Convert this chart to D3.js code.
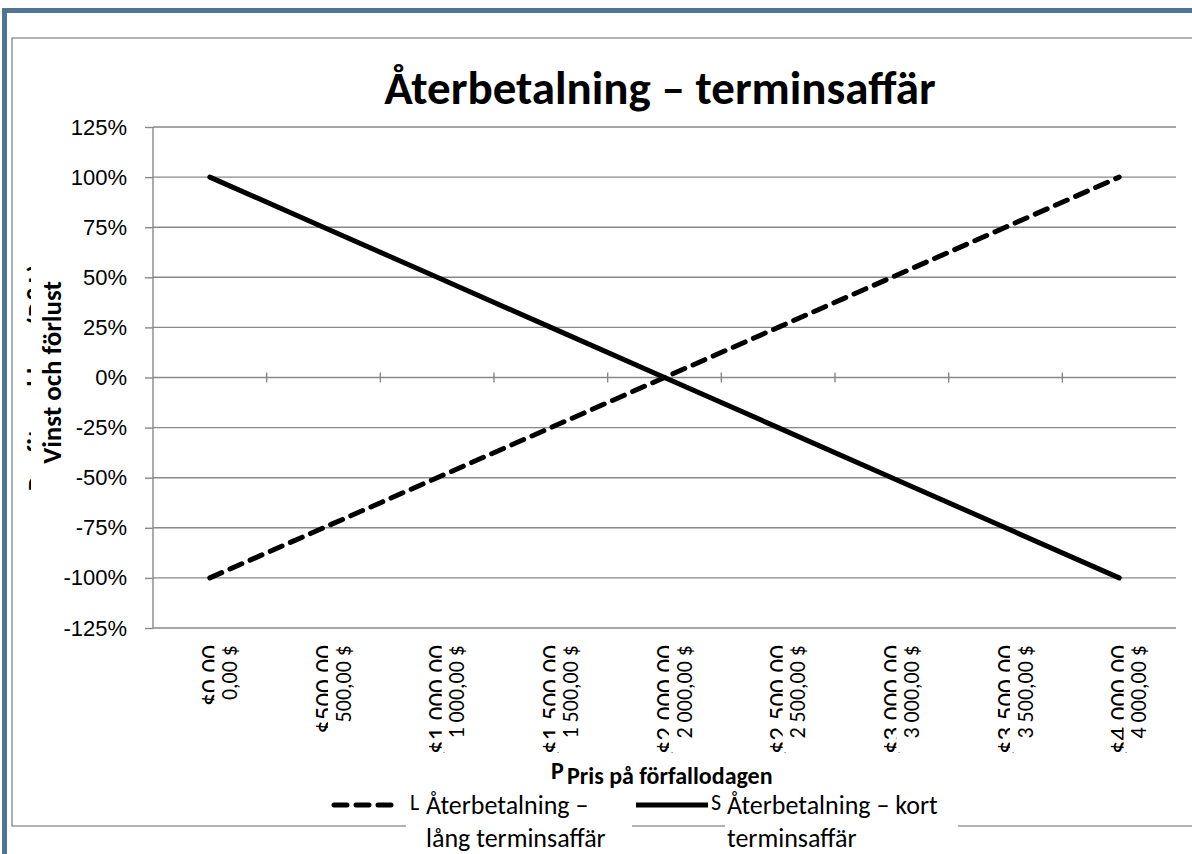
<!DOCTYPE html>
<html lang="sv">
<head>
    <meta charset="UTF-8"/>
    <title>Återbetalning – terminsaffär</title>
    <script src="https://cdn.jsdelivr.net/npm/d3@7"></script>
    <style>
        html,
        body {
            margin: 0;
            padding: 0;
            background: white;
        }

        svg {
            display: block;
            font-family: Carlito, Calibri, Lato, sans-serif;
        }
    </style>
</head>
<body>
<div id="chart"></div>

<script>
    // data
    const prices = [0, 500, 1000, 1500, 2000, 2500, 3000, 3500, 4000]
    const priceLabels = ["0,00 $", "500,00 $", "1 000,00 $", "1 500,00 $", "2 000,00 $",
        "2 500,00 $", "3 000,00 $", "3 500,00 $", "4 000,00 $"]
    // the old english labels that still show behind the swedish ones
    const ghostPriceLabels = ["$0.00", "$500.00", "$1,000.00", "$1,500.00", "$2,000.00",
        "$2,500.00", "$3,000.00", "$3,500.00", "$4,000.00"]
    const longPayoff = [-1, -0.75, -0.5, -0.25, 0, 0.25, 0.5, 0.75, 1]
    const shortPayoff = [1, 0.75, 0.5, 0.25, 0, -0.25, -0.5, -0.75, -1]
    const yTicks = [-1.25, -1, -0.75, -0.5, -0.25, 0, 0.25, 0.5, 0.75, 1, 1.25]
    const yTickLabels = ["-125%", "-100%", "-75%", "-50%", "-25%", "0%", "25%", "50%", "75%", "100%", "125%"]

    const title = "Återbetalning – terminsaffär"
    const yTitle = "Vinst och förlust"
    const yTitleGhost = "Profit and loss (P&L)"
    const xTitle = "Pris på förfallodagen"
    const xTitleGhost = "P"
    const seriesNames = [["Återbetalning –", "lång terminsaffär"], ["Återbetalning – kort", "terminsaffär"]]
    // only the first letter of the old english legend texts is still visible
    const seriesGhosts = ["L", "S"]

    const width = 1192
    const height = 854
    const plot = {left: 153, right: 1176, top: 127, bottom: 628}
    const grey = "#888888"

    const svg = d3.select("#chart")
        .append("svg")
        .attr("width", width)
        .attr("height", height)

    // outer blue frame
    svg.append("rect").attr("x", 2).attr("y", 8).attr("width", width).attr("height", 5).attr("fill", "#4F7494")
    svg.append("rect").attr("x", 2).attr("y", 8).attr("width", 5).attr("height", height).attr("fill", "#4F7494")

    // chart area border (left, top, bottom)
    svg.append("path")
        .attr("d", `M${width},38 H12 V826 H${width}`)
        .attr("fill", "none")
        .attr("stroke", "#999999")
        .attr("stroke-width", 1.6)

    const x = d3.scalePoint().domain(prices).range([plot.left, plot.right]).padding(0.5)
    const y = d3.scaleLinear().domain([-1.25, 1.25]).range([plot.bottom, plot.top])

    // title
    svg.append("text")
        .attr("x", 660)
        .attr("y", 104)
        .attr("text-anchor", "middle")
        .attr("font-size", 47)
        .attr("font-weight", "bold")
        .text(title)

    // gridlines
    svg.append("g")
        .selectAll("line")
        .data(yTicks)
        .join("line")
        .attr("x1", plot.left)
        .attr("x2", plot.right)
        .attr("y1", d => y(d))
        .attr("y2", d => y(d))
        .attr("stroke", grey)
        .attr("stroke-width", 1.4)

    // y axis
    const yAxis = svg.append("g")
        .attr("transform", `translate(${plot.left},0)`)
        .call(d3.axisLeft(y).tickValues(yTicks).tickFormat((d, i) => yTickLabels[i]).tickSize(8).tickPadding(18))
    yAxis.selectAll("line").attr("stroke", grey).attr("stroke-width", 1.4)
    yAxis.select(".domain").remove()
    yAxis.selectAll("text").attr("font-size", 22).attr("font-family", null).attr("fill", "black")
    svg.append("line")
        .attr("x1", plot.left).attr("x2", plot.left)
        .attr("y1", plot.top).attr("y2", plot.bottom)
        .attr("stroke", grey).attr("stroke-width", 1.4)

    // category ticks on the zero line
    const step = x.step()
    svg.append("g")
        .selectAll("line")
        .data(prices.slice(0, -1))
        .join("line")
        .attr("x1", d => x(d) + step / 2)
        .attr("x2", d => x(d) + step / 2)
        .attr("y1", y(0) - 5)
        .attr("y2", y(0) + 5)
        .attr("stroke", grey)
        .attr("stroke-width", 1.4)

    // x labels: ghost first, then a white box and the swedish label on top
    const xLabels = svg.append("g")
        .selectAll("g")
        .data(prices)
        .join("g")
        .attr("transform", d => `translate(${x(d)},645)`)

    xLabels.append("text")
        .attr("transform", "translate(9,0) rotate(-90)")
        .attr("text-anchor", "end")
        .attr("font-size", 27)
        .text((d, i) => ghostPriceLabels[i])
    xLabels.append("rect")
        .attr("x", 4.5)
        .attr("y", -8)
        .attr("width", 29)
        .attr("height", 115)
        .attr("fill", "white")
    xLabels.append("text")
        .attr("transform", "translate(27,0) rotate(-90)")
        .attr("text-anchor", "end")
        .attr("font-size", 22)
        .text((d, i) => priceLabels[i])

    // y axis title
    const yMid = (plot.top + plot.bottom) / 2
    svg.append("text")
        .attr("transform", `translate(46,${yMid}) rotate(-90)`)
        .attr("text-anchor", "middle")
        .attr("font-size", 27)
        .attr("font-weight", "bold")
        .text(yTitleGhost)
    svg.append("rect")
        .attr("x", 31).attr("y", 250).attr("width", 34).attr("height", 255)
        .attr("fill", "white")
    svg.append("text")
        .attr("transform", `translate(61,${yMid - 5}) rotate(-90)`)
        .attr("text-anchor", "middle")
        .attr("font-size", 27)
        .attr("font-weight", "bold")
        .text(yTitle)

    // x axis title
    svg.append("text")
        .attr("x", 551).attr("y", 779)
        .attr("font-size", 24)
        .attr("font-weight", "bold")
        .text(xTitleGhost)
    svg.append("text")
        .attr("x", 567).attr("y", 784)
        .attr("font-size", 24)
        .attr("font-weight", "bold")
        .text(xTitle)

    // series
    const line = d3.line()
        .x((d, i) => x(prices[i]))
        .y(d => y(d))

    svg.append("path")
        .datum(longPayoff)
        .attr("d", line)
        .attr("fill", "none")
        .attr("stroke", "black")
        .attr("stroke-width", 5)
        .attr("stroke-linecap", "round")
        .attr("stroke-dasharray", "13,9")

    svg.append("path")
        .datum(shortPayoff)
        .attr("d", line)
        .attr("fill", "none")
        .attr("stroke", "black")
        .attr("stroke-width", 5)
        .attr("stroke-linecap", "round")

    // legend
    const legend = [
        {sample: [334, 397], ghostX: 410, textX: 426, box: [406, 632], dash: "13,9"},
        {sample: [636, 708], ghostX: 711, textX: 727, box: [725, 958], dash: null}
    ]
    legend.forEach((entry, i) => {
        svg.append("line")
            .attr("x1", entry.sample[0]).attr("x2", entry.sample[1])
            .attr("y1", 805).attr("y2", 805)
            .attr("stroke", "black")
            .attr("stroke-width", 5)
            .attr("stroke-linecap", entry.dash ? "round" : "butt")
            .attr("stroke-dasharray", entry.dash)
        svg.append("rect")
            .attr("x", entry.box[0]).attr("y", 816).attr("width", entry.box[1] - entry.box[0]).attr("height", 38)
            .attr("fill", "white")
        svg.append("text")
            .attr("x", entry.ghostX).attr("y", 810)
            .attr("font-size", 22)
            .text(seriesGhosts[i])
        svg.append("text")
            .attr("x", entry.textX).attr("y", 814)
            .attr("font-size", 26)
            .text(seriesNames[i][0])
        svg.append("text")
            .attr("x", entry.textX).attr("y", 847)
            .attr("font-size", 26)
            .text(seriesNames[i][1])
    })
</script>
</body>
</html>
